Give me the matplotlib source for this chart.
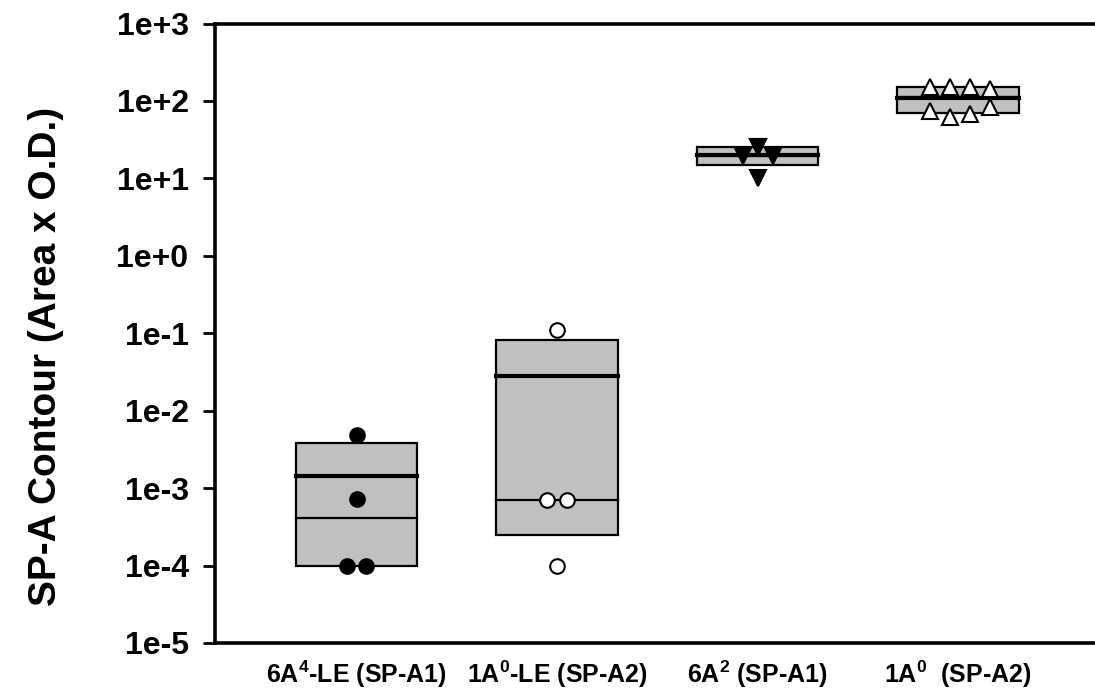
import numpy as np
import matplotlib
matplotlib.use("Agg")
import matplotlib.pyplot as plt
from matplotlib.ticker import FixedLocator, FuncFormatter, NullLocator

plt.rcParams['font.family'] = ['Liberation Sans', 'DejaVu Sans']
plt.rcParams['font.weight'] = 'bold'
plt.rcParams['mathtext.fontset'] = 'custom'
plt.rcParams['mathtext.rm'] = 'Liberation Sans:bold'
plt.rcParams['mathtext.bf'] = 'Liberation Sans:bold'
plt.rcParams['mathtext.default'] = 'bf'

# ---- data ----
categories = [r"6A$^{4}$-LE (SP-A1)", r"1A$^{0}$-LE (SP-A2)",
              r"6A$^{2}$ (SP-A1)", r"1A$^{0}$  (SP-A2)"]
g1_values = [1.0e-4, 1.0e-4, 7.2e-4, 4.8e-3]
g2_values = [1.0e-4, 7.0e-4, 7.0e-4, 0.11]
g3_values = [10.0, 19.5, 19.5, 25.5, 25.5]
g4_values = [151, 151, 151, 141, 74.0, 62.0, 67.5, 84.0]
groups = [g1_values, g2_values, g3_values, g4_values]

# horizontal scatter offsets for points (display layout)
offsets = [
    [-0.048, 0.048, 0.0, 0.0],
    [0.0, -0.052, 0.052, 0.0],
    [0.0, -0.075, 0.075, 0.0, 0.0],
    [-0.14, -0.04, 0.06, 0.16, -0.14, -0.04, 0.06, 0.16],
]
yticks = [1e-5, 1e-4, 1e-3, 1e-2, 1e-1, 1e0, 1e1, 1e2, 1e3]

styles = [
    dict(marker='o', mfc='black', mec='black', ms=10.5),
    dict(marker='o', mfc='white', mec='black', ms=10.5),
    dict(marker='v', mfc='black', mec='black', ms=11.5),
    dict(marker='^', mfc='white', mec='black', ms=11.5),
]

fig = plt.figure(figsize=(10.95, 6.91), dpi=100)
ax = fig.add_axes([215/1095, 48/691, 880/1095, 619.5/691])

positions = [1, 2, 3, 4]
bw = 0.606
for pos, vals, offs, st in zip(positions, groups, offsets, styles):
    v = np.array(vals, dtype=float)
    q1, med, q3 = np.percentile(v, [25, 50, 75], method='weibull')
    mean = v.mean()
    ax.add_patch(plt.Rectangle((pos - bw/2, q1), bw, q3 - q1,
                               facecolor='#c0c0c0', edgecolor='black',
                               linewidth=1.6, zorder=2))
    ax.plot([pos - bw/2, pos + bw/2], [med, med], color='black', lw=1.6, zorder=3)
    ax.plot([pos - bw/2, pos + bw/2], [mean, mean], color='black', lw=3.0, zorder=3)
    ax.plot(np.array(offs) + pos, v, linestyle='none',
            markeredgewidth=1.5, zorder=4, **st)

ax.set_yscale('log')
ax.set_ylim(1e-5, 1e3)
ax.set_xlim(0.294, 0.294 + 880/200.5)
ax.yaxis.set_major_locator(FixedLocator(yticks))
ax.yaxis.set_minor_locator(NullLocator())
ax.yaxis.set_major_formatter(FuncFormatter(lambda v, p: "1e%+d" % int(round(np.log10(v)))))
ax.set_xticks(positions)
ax.set_xticklabels(categories, fontsize=18, fontweight='bold')
ax.tick_params(axis='x', length=0, pad=11)
ax.tick_params(axis='y', direction='out', length=9, width=2, labelsize=23, pad=10)
for lab in ax.get_yticklabels():
    lab.set_fontweight('bold')

for s in ['left', 'bottom', 'top']:
    ax.spines[s].set_linewidth(2.6)
ax.spines['right'].set_visible(False)

ax.set_ylabel("SP-A Contour (Area x O.D.)", fontsize=28, fontweight='bold')
ax.yaxis.set_label_coords(-0.172, 0.463)

fig.savefig("out.png", dpi=100)
